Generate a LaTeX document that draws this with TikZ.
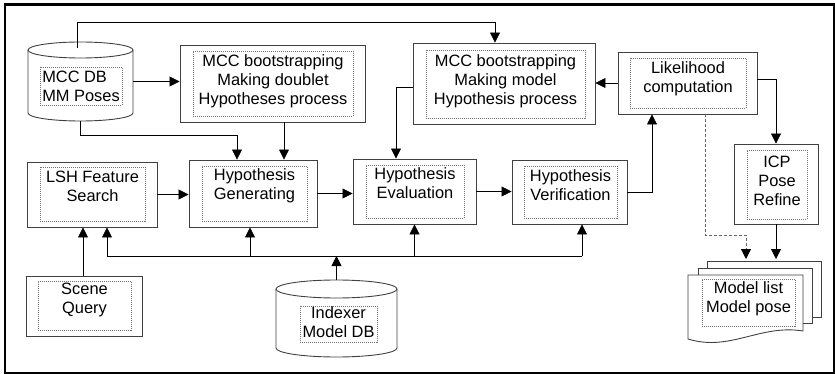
\documentclass[tikz,border=0pt]{standalone}
\usepackage{fontspec}
\setmainfont{Liberation Sans}
\usetikzlibrary{arrows.meta}

\tikzset{
  boxline/.style={draw=black!75, line width=0.9pt},
  procbox/.style={boxline, fill=white, inner sep=0pt},
  inbox/.style={draw=black!55, line width=0.6pt, dash pattern=on 1pt off 1pt,
    inner sep=0pt},
  txt/.style={inner sep=0pt, align=center},
  arr/.style={-{Triangle[length=10pt,width=10pt,color=black]}, line width=0.8pt},
}

\begin{document}
\begin{tikzpicture}[x=1pt,y=-1pt,font=\fontsize{16.4}{19}\selectfont]
\useasboundingbox (0,0) rectangle (835,374);
\draw[line width=2.6pt] (5,4.3) rectangle (834,372.8);

% data bases
\node[inner sep=0pt, minimum width=105pt, minimum height=79pt] (mccdb) at (80.5,81.5) {};
\draw[boxline] (80.5,50) ellipse (52.5 and 8);
\draw[boxline] (28,50) -- (28,113) arc (180:0:52.5 and 8) -- (133,50);
\node[inbox, minimum width=82pt, minimum height=38pt] (mccdbin) at (81,86) {};
\node[txt, align=left] (mccdbtxt) at (mccdbin) {MCC DB\\MM Poses};

\node[inner sep=0pt, minimum width=121pt, minimum height=77pt] (idx) at (336.5,318.5) {};
\draw[boxline] (336.5,289) ellipse (60.5 and 9);
\draw[boxline] (276,289) -- (276,348) arc (180:0:60.5 and 9) -- (397,289);
\node[inbox, minimum width=77pt, minimum height=36pt] (idxin) at (338.5,324) {};
\node[txt] (idxtxt) at ([yshift=2pt]idxin) {Indexer\\Model DB};

% process boxes
\node[procbox, minimum width=185pt, minimum height=77pt] (mccd) at (272.5,83.5) {};
\node[inbox, minimum width=160pt, minimum height=65pt] (mccdin) at (273,83.5) {};
\node[txt] (mccdtxt) at ([yshift=2pt]mccdin) {MCC bootstrapping\\Making doublet\\Hypotheses process};

\node[procbox, minimum width=182pt, minimum height=81pt] (mccm) at (504,83.5) {};
\node[inbox, minimum width=159pt, minimum height=68pt] (mccmin) at (505.5,84) {};
\node[txt] (mccmtxt) at ([yshift=3pt]mccmin) {MCC bootstrapping\\Making model\\Hypothesis process};

\node[procbox, minimum width=139pt, minimum height=62pt] (lik) at (687.5,83) {};
\node[inbox, minimum width=116pt, minimum height=50pt] (likin) at (688,83) {};
\node[txt] (liktxt) at ([yshift=4pt]likin) {Likelihood\\computation};

\node[procbox, minimum width=130pt, minimum height=65pt] (lsh) at (92,194.5) {};
\node[inbox, minimum width=105pt, minimum height=54pt] (lshin) at (92.5,194) {};
\node[txt] (lshtxt) at ([yshift=8pt]lshin) {LSH Feature\\Search};

\node[procbox, minimum width=128pt, minimum height=67pt] (hgen) at (253,193.5) {};
\node[inbox, minimum width=105pt, minimum height=55pt] (hgenin) at (254.5,193.5) {};
\node[txt] (hgentxt) at ([yshift=8pt]hgenin) {Hypothesis\\Generating};

\node[procbox, minimum width=123pt, minimum height=65pt] (heval) at (414.5,191.5) {};
\node[inbox, minimum width=98pt, minimum height=53pt] (hevalin) at (415,191.5) {};
\node[txt] (hevaltxt) at ([yshift=8pt]hevalin) {Hypothesis\\Evaluation};

\node[procbox, minimum width=115pt, minimum height=64pt] (hver) at (569.5,192) {};
\node[inbox, minimum width=93pt, minimum height=52pt] (hverin) at (570.5,192) {};
\node[txt] (hvertxt) at ([yshift=7pt]hverin) {Hypothesis\\Verification};

\node[procbox, minimum width=84pt, minimum height=80pt] (icp) at (776,184) {};
\node[inbox, minimum width=60pt, minimum height=69pt] (icpin) at (777,184.5) {};
\node[txt] (icptxt) at ([yshift=4pt]icpin) {ICP\\Pose\\Refine};

\node[procbox, minimum width=116pt, minimum height=60pt] (scene) at (84,306) {};
\node[inbox, minimum width=93pt, minimum height=49pt] (scenein) at (84.5,305.5) {};
\node[txt] (scenetxt) at ([yshift=6pt]scenein) {Scene\\Query};

% model list pages
\draw[boxline, fill=white] (707,261) rectangle (821,317);
\draw[boxline, fill=white] (698,268) rectangle (812,323);
\draw[boxline, fill=white] (688,275) -- (803,275) -- (803,331)
  .. controls (760,324) and (730,352) .. (688,339) -- cycle;
\node[inbox, minimum width=93pt, minimum height=47pt] (mlistin) at (748.5,302.5) {};
\node[txt] (mlisttxt) at ([yshift=4pt]mlistin) {Model list\\Model pose};

\coordinate (bus) at (0,256);
\coordinate (doctop) at (0,259);
\coordinate (dashend) at (746,259);

% connectors
\draw[arr] ([xshift=-3.5,yshift=-6pt]mccdb.north) -- ++(0,-25) -| ([xshift=-9pt]mccm.north);
\draw[arr] (mccdb.east) -- (mccdb.east -| mccd.west);
\draw[arr] (mccdb.south) -- ++(0,14) -| ([xshift=-16pt]hgen.north);
\draw[arr] ([xshift=11.5pt]mccd.south) -- ([xshift=11.5pt]mccd.south |- hgen.north);
\draw[arr] (lsh.east) -- (lsh.east -| hgen.west);
\draw[arr] (hgen.east) -- (hgen.east -| heval.west);
\draw[arr] (heval.east) -- (heval.east -| hver.west);
\draw[arr] (hver.east) -| ([xshift=-35.5pt]lik.south);
\draw[arr] (lik.west) -- (lik.west -| mccm.east);
\draw[arr] ([yshift=-3.5pt]mccm.west) -| ([xshift=-18.5pt]heval.north);
\draw[arr] ([yshift=4pt]lik.east) -| (icp.north);
\draw[arr, draw=black!60, dash pattern=on 3pt off 2pt] ([xshift=17.5pt]lik.south) -- ++(0,121) -| (dashend);
\draw[arr] (icp.south) -- (icp.south |- doctop);
\draw[arr] ([xshift=-1pt]scene.north) -- ([xshift=-1pt]scene.north |- lsh.south);

\draw[line width=0.8pt] ([xshift=15pt]lsh.south |- bus) -- ([xshift=12.5pt]hver.south |- bus);
\draw[arr] ([xshift=15pt]lsh.south |- bus) -- ([xshift=15pt]lsh.south);
\draw[arr] ([xshift=-3pt]hgen.south |- bus) -- ([xshift=-3pt]hgen.south);
\draw[arr] (heval.south |- bus) -- (heval.south);
\draw[arr] ([xshift=12.5pt]hver.south |- bus) -- ([xshift=12.5pt]hver.south);
\draw[arr] (idx.north) -- (idx.north |- bus);
\end{tikzpicture}
\end{document}
